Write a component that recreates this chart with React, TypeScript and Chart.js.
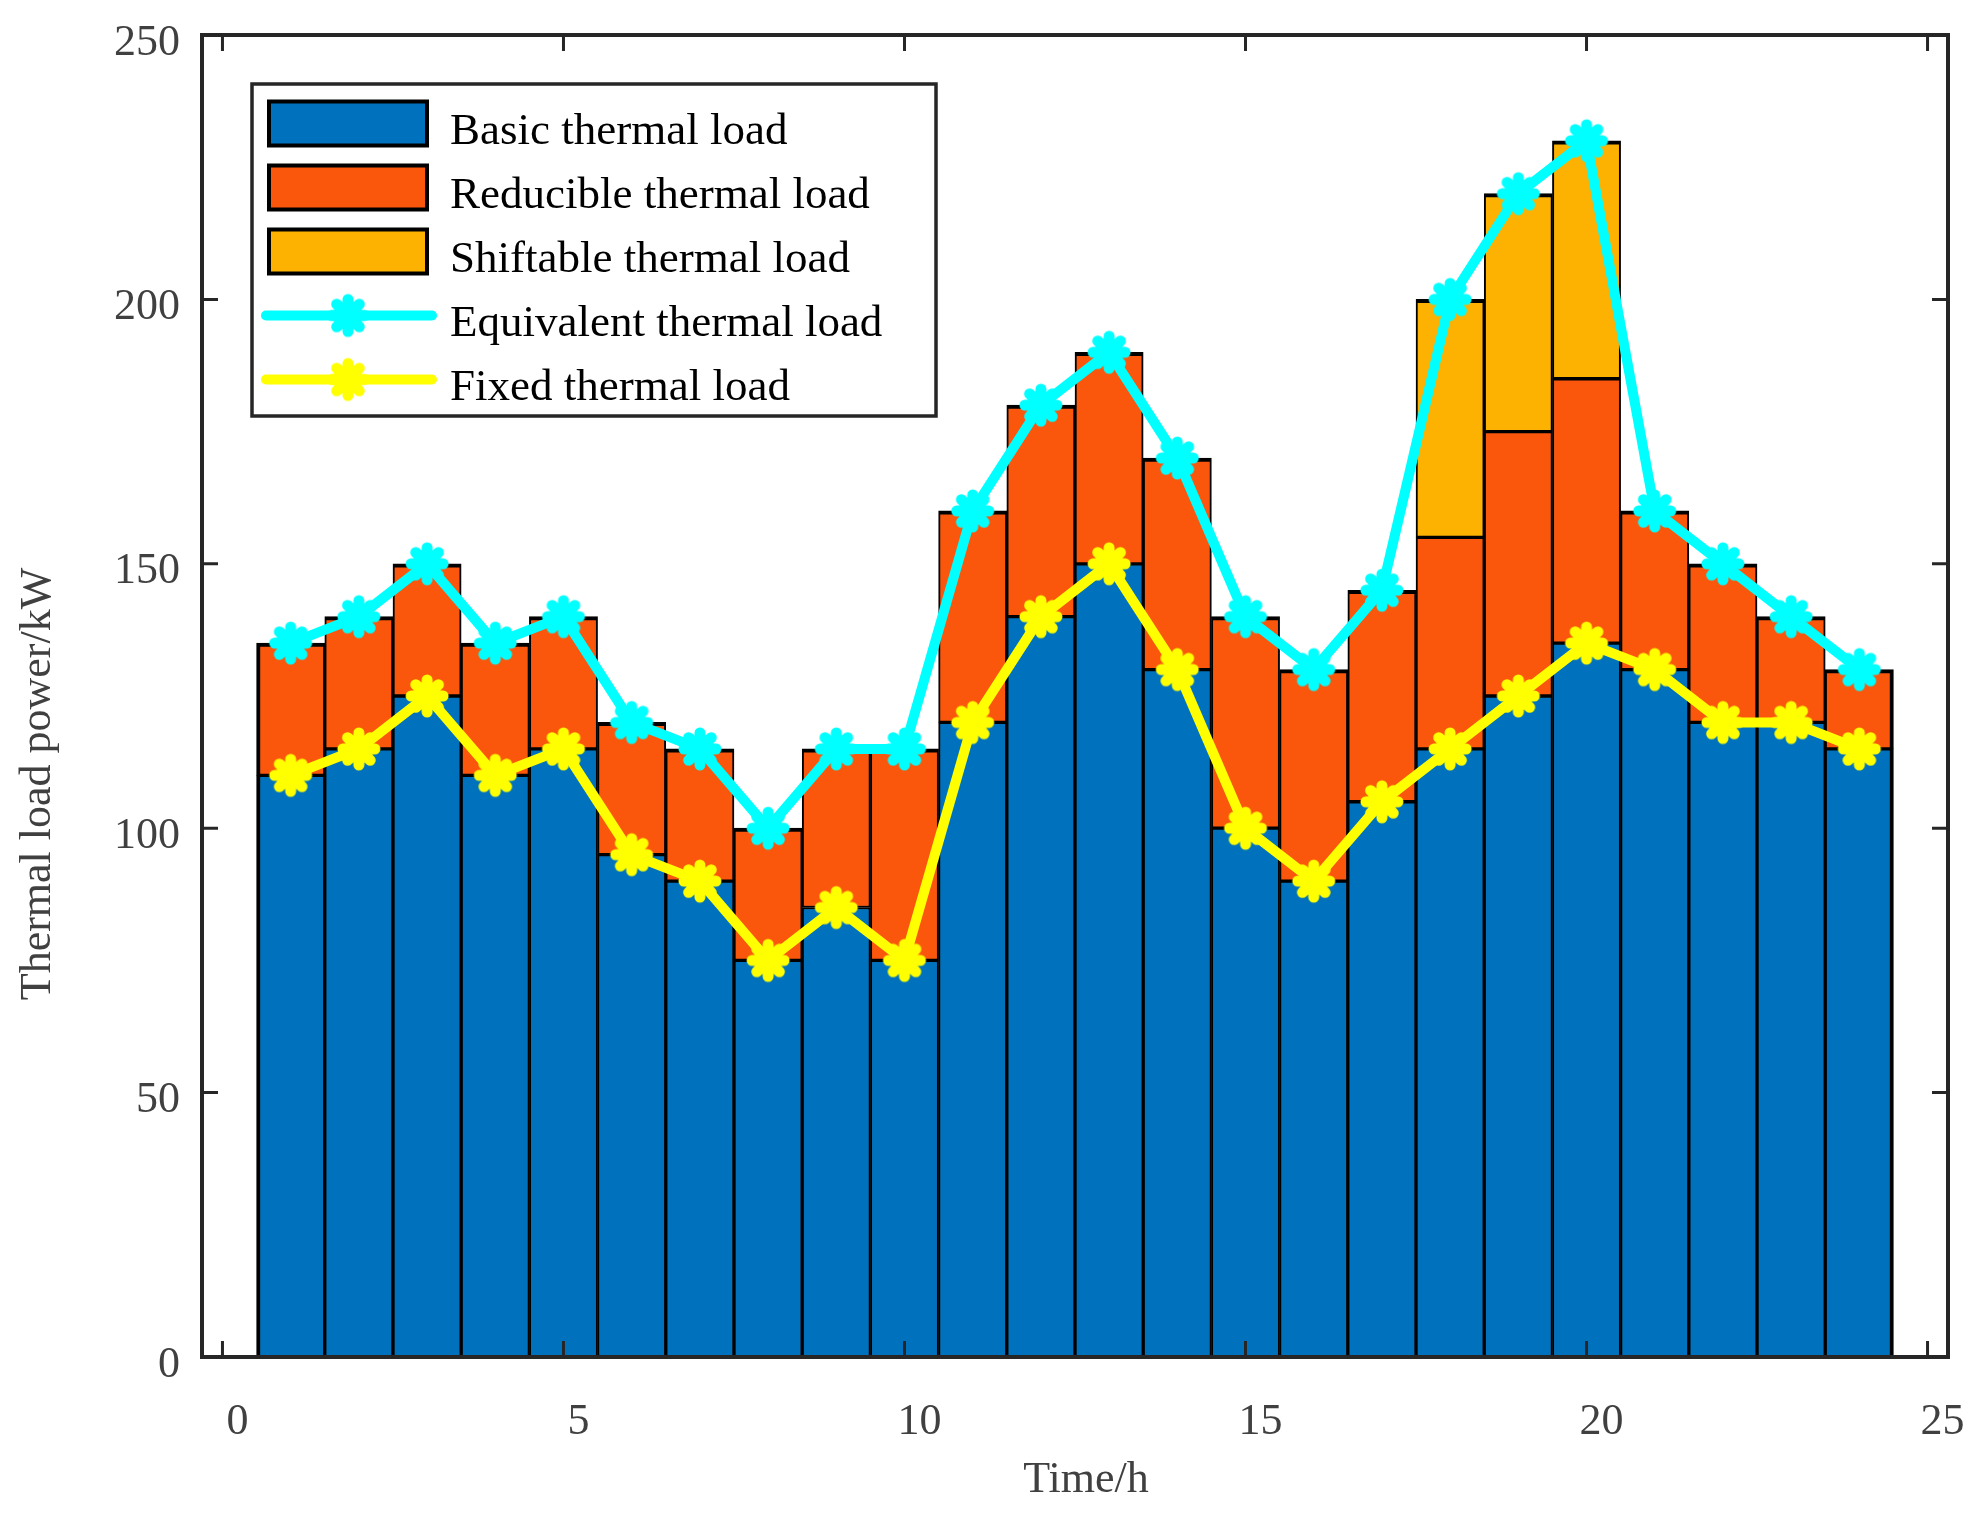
import { Chart, registerables, type Plugin } from 'chart.js';
import { useEffect, useRef } from 'react';

Chart.register(...registerables);

const hours = [1, 2, 3, 4, 5, 6, 7, 8, 9, 10, 11, 12, 13, 14, 15, 16, 17, 18, 19, 20, 21, 22, 23, 24];
const basicLoad = [110, 115, 125, 110, 115, 95, 90, 75, 85, 75, 120, 140, 150, 130, 100, 90, 105, 115, 125, 135, 130, 120, 120, 115];
const reducibleLoad = [25, 25, 25, 25, 25, 25, 25, 25, 30, 40, 40, 40, 40, 40, 40, 40, 40, 40, 50, 50, 30, 30, 20, 15];
const shiftableLoad = [0, 0, 0, 0, 0, 0, 0, 0, 0, 0, 0, 0, 0, 0, 0, 0, 0, 45, 45, 45, 0, 0, 0, 0];
const equivalentLoad = [135, 140, 150, 135, 140, 120, 115, 100, 115, 115, 160, 180, 190, 170, 140, 130, 145, 200, 220, 230, 160, 150, 140, 130];
const fixedLoad = [110, 115, 125, 110, 115, 95, 90, 75, 85, 75, 120, 140, 150, 130, 100, 90, 105, 115, 125, 135, 130, 120, 120, 115];
const xTicks = [0, 5, 10, 15, 20, 25];
const yTicks = [0, 50, 100, 150, 200, 250];

const seriesNames = [
  'Basic thermal load',
  'Reducible thermal load',
  'Shiftable thermal load',
  'Equivalent thermal load',
  'Fixed thermal load',
];
const colors = ['#0072BD', '#FA560C', '#FDB100', '#00FFFF', '#FFFF00'];

const serif = '"Liberation Serif", "Times New Roman", serif';
const axisInk = '#262626';
const labelInk = '#404040';

const barLayers = [basicLoad, reducibleLoad, shiftableLoad];
// which bar layer is on top of each hour's stack
const topLayer = hours.map((_, i) => {
  let top = 0;
  barLayers.forEach((layer, k) => {
    if (layer[i] > 0) top = k;
  });
  return top;
});

const makeMarker = (color: string) => {
  const c = document.createElement('canvas');
  c.width = 48;
  c.height = 48;
  const g = c.getContext('2d');
  if (!g) return c;
  g.strokeStyle = color;
  g.lineWidth = 11;
  g.lineCap = 'round';
  g.beginPath();
  for (let k = 0; k < 4; k++) {
    const a = (k * Math.PI) / 4;
    const dx = Math.cos(a) * 16;
    const dy = Math.sin(a) * 16;
    g.moveTo(24 - dx, 24 - dy);
    g.lineTo(24 + dx, 24 + dy);
  }
  g.stroke();
  return c;
};

const frame: Plugin = {
  id: 'frame',
  afterDatasetsDraw(chart) {
    const { ctx, chartArea, scales } = chart;
    const { left, right, top, bottom } = chartArea;
    ctx.save();
    ctx.strokeStyle = axisInk;
    ctx.lineWidth = 3;
    ctx.beginPath();
    xTicks.forEach((v) => {
      const px = scales.x.getPixelForValue(v);
      ctx.moveTo(px, bottom);
      ctx.lineTo(px, bottom - 16);
      ctx.moveTo(px, top);
      ctx.lineTo(px, top + 16);
    });
    yTicks.forEach((v) => {
      const py = scales.y.getPixelForValue(v);
      ctx.moveTo(left, py);
      ctx.lineTo(left + 16, py);
      ctx.moveTo(right, py);
      ctx.lineTo(right - 16, py);
    });
    ctx.stroke();
    ctx.lineWidth = 4;
    ctx.strokeRect(left, top, right - left, bottom - top);
    ctx.restore();
  },
};

const insideLegend: Plugin = {
  id: 'insideLegend',
  afterDraw(chart) {
    const { ctx, chartArea } = chart;
    const bx = chartArea.left + 50;
    const by = chartArea.top + 49;
    ctx.save();
    ctx.fillStyle = '#ffffff';
    ctx.fillRect(bx, by, 684, 332);
    ctx.strokeStyle = axisInk;
    ctx.lineWidth = 3.5;
    ctx.strokeRect(bx, by, 684, 332);

    chart.data.datasets.forEach((ds: any, i) => {
      const cy = by + 39.5 + i * 64;
      if (ds.type === 'line') {
        ctx.strokeStyle = ds.borderColor;
        ctx.lineWidth = 10;
        ctx.lineCap = 'round';
        ctx.beginPath();
        ctx.moveTo(bx + 14, cy);
        ctx.lineTo(bx + 180, cy);
        ctx.stroke();
        const m = ds.pointStyle as HTMLCanvasElement;
        ctx.drawImage(m, bx + 96 - m.width / 2, cy - m.height / 2);
      } else {
        ctx.fillStyle = '#000000';
        ctx.fillRect(bx + 15, cy - 24, 162, 48);
        ctx.fillStyle = ds.backgroundColor;
        ctx.fillRect(bx + 19, cy - 20, 154, 40);
      }
      ctx.fillStyle = '#000000';
      ctx.font = `45px ${serif}`;
      ctx.textAlign = 'left';
      ctx.textBaseline = 'middle';
      ctx.fillText(ds.label, bx + 198, cy + 9);
    });
    ctx.restore();
  },
};

export default function App() {
  const canvasRef = useRef<HTMLCanvasElement>(null);
  const chartRef = useRef<Chart | null>(null);

  useEffect(() => {
    if (!canvasRef.current) {
      return;
    }
    const context = canvasRef.current.getContext('2d');
    if (!context) {
      return;
    }

    const barSet = (k: number) => ({
      type: 'bar' as const,
      label: seriesNames[k],
      data: hours.map((h, i) => ({ x: h, y: barLayers[k][i] > 0 ? barLayers[k][i] : null })),
      backgroundColor: colors[k],
      borderColor: '#000000',
      borderSkipped: false as const,
      borderWidth: (c: any) => {
        const i = c.dataIndex;
        return {
          top: topLayer[i] === k ? 4 : 2,
          bottom: 2,
          left: i === 0 ? 4 : 2,
          right: i === hours.length - 1 ? 4 : 2,
        };
      },
      barPercentage: 1,
      categoryPercentage: 1,
      stack: 'bars',
      order: 2,
    });

    const lineSet = (k: number, values: number[]) => ({
      type: 'line' as const,
      label: seriesNames[k],
      data: hours.map((h, i) => ({ x: h, y: values[i] })),
      borderColor: colors[k],
      backgroundColor: colors[k],
      borderWidth: 10,
      borderJoinStyle: 'round' as const,
      tension: 0,
      pointStyle: makeMarker(colors[k]),
      pointRadius: 20,
      stack: `line${k}`,
      order: 1,
    });

    chartRef.current = new Chart(context, {
      type: 'bar',
      data: {
        datasets: [
          barSet(0),
          barSet(1),
          barSet(2),
          lineSet(3, equivalentLoad),
          lineSet(4, fixedLoad),
        ] as any,
      },
      options: {
        animation: false,
        responsive: false,
        layout: { padding: { top: 35, right: 31, left: 0, bottom: 0 } },
        plugins: {
          legend: { display: false },
          tooltip: { enabled: false },
        },
        scales: {
          x: {
            type: 'linear',
            min: -0.3,
            max: 25.3,
            offset: false,
            grid: { display: false, drawTicks: false },
            border: { display: false },
            afterBuildTicks: (s) => {
              s.ticks = xTicks.map((v) => ({ value: v }));
            },
            afterFit: (s: any) => {
              s.height = 156;
              s.paddingLeft = 0;
              s.paddingRight = 0;
            },
            ticks: {
              font: { family: serif, size: 44 },
              color: labelInk,
              padding: 39,
              labelOffset: 15,
              maxRotation: 0,
              autoSkip: false,
            },
            title: {
              display: true,
              text: '\u00a0\u00a0Time/h',
              font: { family: serif, size: 44 },
              color: labelInk,
              padding: { top: 0, bottom: 6 },
            },
          },
          y: {
            stacked: true,
            min: 0,
            max: 250,
            grid: { display: false, drawTicks: false },
            border: { display: false },
            afterBuildTicks: (s) => {
              s.ticks = yTicks.map((v) => ({ value: v }));
            },
            afterFit: (s: any) => {
              s.width = 202;
              s.paddingTop = 0;
              s.paddingBottom = 0;
            },
            ticks: {
              font: { family: serif, size: 44 },
              color: labelInk,
              padding: 22,
              labelOffset: 8,
            },
            title: {
              display: true,
              text: 'Thermal load power/kW' + '\u00a0'.repeat(16),
              font: { family: serif, size: 44 },
              color: labelInk,
              padding: { top: 12, bottom: 0 },
            },
          },
        },
      },
      plugins: [frame, insideLegend],
    });

    return () => {
      chartRef.current?.destroy();
    };
  }, []);

  return (
    <div style={{ position: 'absolute', left: 0, top: 0, width: 1979, height: 1513, background: '#ffffff' }}>
      <canvas ref={canvasRef} width={1979} height={1513} style={{ width: 1979, height: 1513 }} />
    </div>
  );
}
